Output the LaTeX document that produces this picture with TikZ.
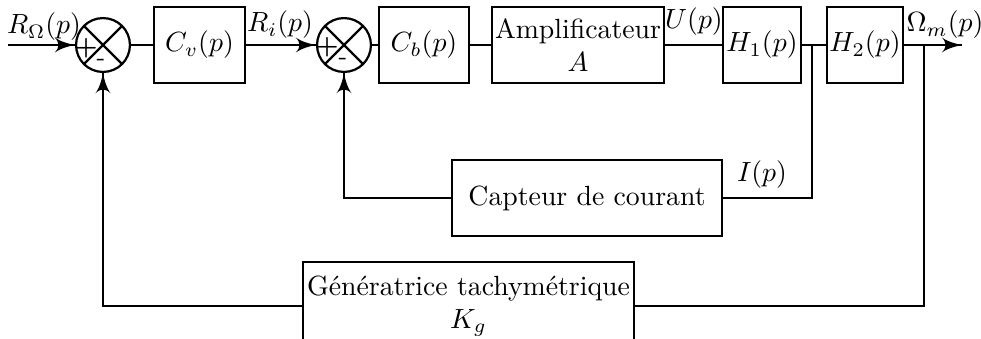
\documentclass[tikz,border=0pt]{standalone}
\usepackage{amsmath}
\usepackage{amssymb}
\usepackage{fontspec}
\usepackage{tikz}
\usetikzlibrary{arrows}
\usetikzlibrary{decorations.markings}
\tikzset{fleche/.style = {decoration={markings,
                                      mark=at position 1 with {\arrow[scale=1.4]{latex'}}},
                          postaction={decorate}}}
\tikzset{bloc/.style = {draw, rectangle, inner sep=1pt, minimum height=27.4pt, align=center}}
\tikzset{somme/.style = {draw, circle, inner sep=0pt, minimum size=19.4pt,
                         path picture={\draw (path picture bounding box.north west) -- (path picture bounding box.south east)
                                             (path picture bounding box.north east) -- (path picture bounding box.south west);}}}

\begin{document}
\begin{tikzpicture}[x=0.36pt, y=-0.36pt, thick]
    \useasboundingbox (0, 0) rectangle (981, 338);

    % chaine directe
    \coordinate (entree) at (8, 45);
    \node [somme] (s1) at (103, 45) {};
    \node [bloc, minimum width=32.8pt] (cv) at (199.5, 45) {$C_v(p)$};
    \node [somme] (s2) at (344, 45) {};
    \node [bloc, minimum width=32.4pt] (cb) at (424, 45) {$C_b(p)$};
    \node [bloc, minimum width=61.9pt] (ampli) at (578, 45) {Amplificateur\\$A$};
    \node [bloc, minimum width=28.1pt] (h1) at (762, 45) {$H_1(p)$};
    \node [bloc, minimum width=26.6pt] (h2) at (865, 45) {$H_2(p)$};
    \coordinate (sortie) at (962, 45);
    \coordinate (b1) at (812, 45);
    \coordinate (b2) at (924, 45);

    % retours
    \node [bloc, minimum width=97.2pt] (capteur) at (587, 198) {Capteur de courant};
    \node [bloc, minimum width=119.2pt, minimum height=31.7pt] (gene) at (468.5, 306) {G\'en\'eratrice tachym\'etrique\\$K_g$};

    \node (lro) at (44, 27) {$R_\Omega(p)$};
    \node (lri) at (280, 25) {$R_i(p)$};
    \node (lu) at (694, 22) {$U(p)$};
    \node (lom) at (945, 25) {$\Omega_m(p)$};
    \node (li) at (762, 175) {$I(p)$};

    \node (p1) at (86, 48) {\small\bfseries +};
    \node (m1) at (101, 62) {\small -};
    \node (p2) at (327, 47) {\small\bfseries +};
    \node (m2) at (343, 61) {\small -};

    \draw [fleche] (entree) -- (s1);
    \draw (s1) -- (cv);
    \draw [fleche] (cv) -- (s2);
    \draw (s2) -- (cb);
    \draw (cb) -- (ampli);
    \draw (ampli) -- (h1);
    \draw (h1) -- (h2);
    \draw [fleche] (h2) -- (sortie);

    \draw (b1) |- (capteur);
    \draw [fleche] (capteur) -| (s2);
    \draw (b2) |- (gene);
    \draw [fleche] (gene) -| (s1);
\end{tikzpicture}
\end{document}
